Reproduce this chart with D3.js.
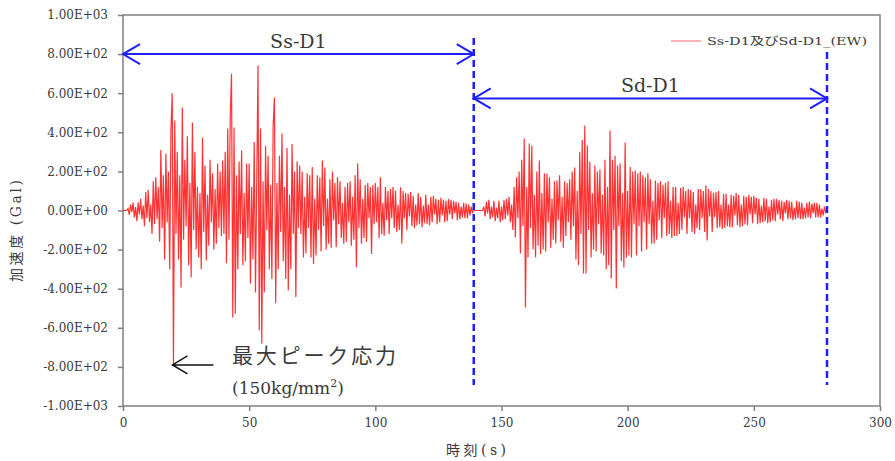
<!DOCTYPE html>
<html>
<head>
<meta charset="utf-8">
<script src="https://cdn.jsdelivr.net/npm/d3@7"></script>
<style>
  body { margin: 0; background: #fff; }
  svg { display: block; }
  text { fill: #3a3a3a; }
</style>
</head>
<body>
<div id="chart"></div>
<script>
// sampling step of the hand-read trace (s)
const dt = 0.5;

// Ss-D1 part, t = 0 .. 139 s (Gal)
const ssStart = 0;
const ssValues = [
  0, 0, 0, 0, 10, -22, 30, -8, 40, -35, 18, -55, 42, -20, 60, -45, 25, -80, 95, -40,
  105, -60, 30, -120, 150, -70, 170, -45, 120, -160, 310, -90, 180, -250, 290, -60, 200, -300, 420, 600,
  -790, 460, -120, 300, -250, 180, -394, 527, -150, 260, -80, 380, -280, 140, -343, 450, -100, 300, -200, 120,
  -240, 90, -300, 373, -110, 230, -256, 80, -180, 260, -60, 190, -200, 110, -170, 240, -90, 200, -130, 256,
  -120, 300, -270, 420, -150, 480, 700, -547, 425, -527, 180, -300, 250, -120, 307, -280, 90, -260, 240, -140,
  240, -373, 120, -250, 350, -420, 150, 742, -614, 420, -680, 150, -420, 330, -100, 280, -300, 130, -350, 430,
  578, -475, 140, -300, 280, -110, 394, -260, 120, -350, 320, -409, 80, -300, 340, -120, 200, -443, 250, -90,
  230, -120, 200, -240, 70, -220, 190, -90, 180, -240, 222, -273, 60, -230, 180, -100, 170, -210, 256, -80,
  220, -200, 60, -170, 160, -190, 200, -50, 140, -188, 170, -70, 150, -140, 40, -170, 120, -160, 140, -60,
  150, -180, 70, -150, 180, -290, 240, -90, 160, -170, 60, -140, 130, -160, 140, -40, 120, -222, 130, -70,
  140, -60, 120, -140, 170, -120, 40, -130, 120, -50, 100, -120, 110, -40, 120, -90, 100, -110, 30, -100,
  119, -170, 100, -40, 90, -100, 85, -30, 95, -80, 75, -90, 30, -75, 90, -70, 70, -85, 25, -65,
  80, -70, 30, -75, 70, -60, 75, -20, 60, -70, 55, -60, 65, -25, 55, -60, 50, -55, 60, -20,
  55, -45, 50, -15, 45, -50, 40, -45, 20, -35, 40, -40, 35, -40, 30, -25, 20, -10, 0
];

// Sd-D1 part, t = 139 .. 279 s (Gal)
const sdStart = 139;
const sdValues = [
  0, 0, 0, 0, 0, 0, 0, 0, 20, -30, 45, -15, 55, -45, 20, -35, 50, -55, 15, -40,
  50, -60, 20, -50, 55, -45, 60, -25, 70, -60, 30, -100, 120, -138, 170, -40, 200, -220, 260, -80,
  368, -496, 120, -240, 343, -90, 332, -200, 80, -240, 200, -180, 256, -222, 90, -200, 190, -210, 189, -60,
  170, -190, 60, -150, 150, -169, 153, -50, 180, -160, 70, -190, 150, -130, 140, -60, 160, -150, 200, -80,
  220, -250, 100, -280, 300, -120, 360, -322, 435, -322, 332, -100, 250, -240, 90, -200, 230, -210, 200, -70,
  210, -220, 80, -230, 260, -300, 120, -280, 409, -348, 260, -100, 280, -399, 230, -80, 240, -260, 90, -292,
  348, -240, 100, -230, 222, -240, 200, -70, 205, -230, 190, -80, 200, -210, 180, -60, 170, -200, 190, -70,
  160, -170, 50, -169, 153, -150, 140, -50, 150, -140, 130, -40, 140, -130, 150, -120, 50, -140, 120, -130,
  120, -130, 40, -120, 115, -100, 120, -35, 100, -120, 110, -40, 105, -110, 95, -120, 30, -90, 110, -100,
  110, -40, 100, -110, 128, -153, 110, -30, 100, -110, 90, -35, 95, -90, 100, -85, 30, -95, 85, -90,
  85, -80, 30, -85, 80, -85, 75, -25, 90, -75, 80, -85, 30, -80, 75, -70, 70, -75, 80, -20,
  70, -65, 75, -20, 65, -70, 60, -65, 25, -60, 65, -55, 60, -65, 20, -60, 55, -50, 60, -55,
  60, -20, 55, -45, 50, -55, 45, -15, 55, -45, 50, -40, 45, -50, 15, -45, 50, -40, 45, -45,
  40, -45, 15, -40, 40, -35, 45, -40, 35, -15, 40, -35, 40, -35, 30, -35, 10, -25, 20, -10, 0
];

const xTicks = [0, 50, 100, 150, 200, 250, 300];
const yTicks = [1000, 800, 600, 400, 200, 0, -200, -400, -600, -800, -1000];
const yTickLabels = ['1.00E+03', '8.00E+02', '6.00E+02', '4.00E+02', '2.00E+02', '0.00E+00',
  '-2.00E+02', '-4.00E+02', '-6.00E+02', '-8.00E+02', '-1.00E+03'];

// wave ranges marked with the blue arrows (time in s, arrow level in Gal)
const spanLabels = ['Ss-D1', 'Sd-D1'];
const spanFrom = [0, 139];
const spanTo = [139, 279];
const spanLevel = [800, 573];

const legendLabel = 'Ss-D1及びSd-D1_(EW)';
const xTitle = '時刻(s)';
const yTitle = '加速度 (Gal)';
const peakLabel = '最大ピーク応力';
const peakTime = 20;
const peakLevel = -800;

const width = 895, height = 461;
const serif = "'DejaVu Serif', 'Noto Sans CJK JP', serif";

const svg = d3.select('#chart')
  .append('svg')
  .attr('width', width)
  .attr('height', height);

const x = d3.scaleLinear().domain([0, 300]).range([123, 880]);
const y = d3.scaleLinear().domain([-1000, 1000]).range([406, 15]);

// axes
const yAxis = svg.append('g')
  .attr('transform', 'translate(' + x(0) + ',0)')
  .call(d3.axisLeft(y).tickValues(yTicks).tickFormat((d, i) => yTickLabels[i]).tickSize(5).tickPadding(10));
const xAxis = svg.append('g')
  .attr('transform', 'translate(0,' + y(-1000) + ')')
  .call(d3.axisBottom(x).tickValues(xTicks).tickFormat(d3.format('d')).tickSize(5).tickPadding(7));

[yAxis, xAxis].forEach(g => {
  g.select('.domain').remove();
  g.selectAll('line').attr('stroke', '#808080').attr('stroke-width', 1.5);
  g.selectAll('text')
    .attr('fill', '#3a3a3a')
    .style('font-family', serif)
    .style('font-size', '12px');
});

// plot frame
svg.append('rect')
  .attr('x', x(0))
  .attr('y', y(1000))
  .attr('width', x(300) - x(0))
  .attr('height', y(-1000) - y(1000))
  .attr('fill', 'none')
  .attr('stroke', '#808080')
  .attr('stroke-width', 1.5);

// acceleration trace
const trace = start => d3.line()
  .x((d, i) => x(start + i * dt))
  .y(d => y(d));

[[ssValues, ssStart], [sdValues, sdStart]].forEach(([vals, start]) => {
  svg.append('path')
    .datum(vals)
    .attr('d', trace(start))
    .attr('fill', 'none')
    .attr('stroke', '#ff0000')
    .attr('stroke-opacity', 0.8)
    .attr('stroke-width', 1.2);
});

// dashed dividers
const dashTop = [38, 52];
spanTo.forEach((t, i) => {
  svg.append('line')
    .attr('x1', x(t)).attr('x2', x(t))
    .attr('y1', dashTop[i]).attr('y2', 385)
    .attr('stroke', '#1f1fff')
    .attr('stroke-width', 2.5)
    .attr('stroke-dasharray', '7,4');
});

// double headed arrows with labels
const blue = '#1f1fff';
spanLabels.forEach((label, i) => {
  const x0 = x(spanFrom[i]), x1 = x(spanTo[i]), yy = y(spanLevel[i]);
  const g = svg.append('g');
  g.append('line')
    .attr('x1', x0).attr('x2', x1)
    .attr('y1', yy).attr('y2', yy)
    .attr('stroke', blue).attr('stroke-width', 2);
  g.append('path')
    .attr('d', 'M' + (x0 + 17) + ',' + (yy - 10) + 'L' + x0 + ',' + yy + 'L' + (x0 + 17) + ',' + (yy + 10) +
      'M' + (x1 - 17) + ',' + (yy - 10) + 'L' + x1 + ',' + yy + 'L' + (x1 - 17) + ',' + (yy + 10))
    .attr('fill', 'none')
    .attr('stroke', blue)
    .attr('stroke-width', 2);
  g.append('text')
    .attr('x', (x0 + x1) / 2)
    .attr('y', yy - 6)
    .attr('text-anchor', 'middle')
    .style('font-family', serif)
    .style('font-size', '19px')
    .text(label);
});

// legend
svg.append('line')
  .attr('x1', 671).attr('x2', 701)
  .attr('y1', 41).attr('y2', 41)
  .attr('stroke', '#ff9c9c')
  .attr('stroke-width', 1.5);
svg.append('text')
  .attr('x', 707)
  .attr('y', 45)
  .attr('textLength', 160)
  .attr('lengthAdjust', 'spacingAndGlyphs')
  .style('font-family', serif)
  .style('font-size', '11px')
  .text(legendLabel);

// peak annotation
const px = x(peakTime) - 1, py = y(peakLevel) - 2;
svg.append('path')
  .attr('d', 'M' + (px + 41) + ',' + py + 'L' + px + ',' + py +
    'M' + (px + 15) + ',' + (py - 9) + 'L' + px + ',' + py + 'L' + (px + 15) + ',' + (py + 9))
  .attr('fill', 'none')
  .attr('stroke', '#111')
  .attr('stroke-width', 1.5);
svg.append('text')
  .attr('x', 232)
  .attr('y', 363)
  .attr('textLength', 164)
  .style('font-family', serif)
  .style('font-size', '21px')
  .text(peakLabel);
const unit = svg.append('text')
  .attr('x', 232)
  .attr('y', 394)
  .style('font-family', serif)
  .style('font-size', '17px');
unit.append('tspan').text('(150kg/mm');
unit.append('tspan').attr('dy', -7).style('font-size', '11px').text('2');
unit.append('tspan').attr('dy', 7).text(')');

// axis titles
svg.append('text')
  .attr('x', 476)
  .attr('y', 455)
  .attr('text-anchor', 'middle')
  .attr('textLength', 60)
  .style('font-family', serif)
  .style('font-size', '14px')
  .text(xTitle);
svg.append('text')
  .attr('transform', 'translate(21,231) rotate(-90)')
  .attr('text-anchor', 'middle')
  .attr('textLength', 102)
  .style('font-family', serif)
  .style('font-size', '14px')
  .text(yTitle);
</script>
</body>
</html>
